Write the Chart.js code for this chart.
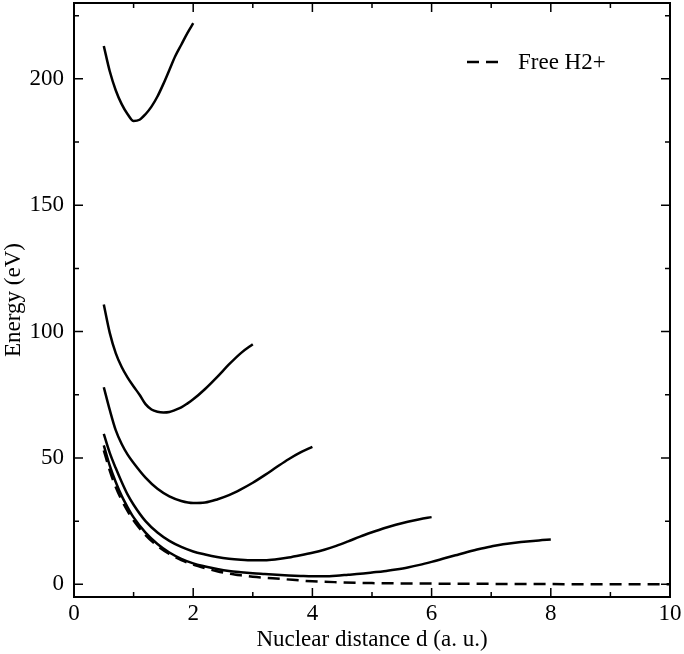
<!DOCTYPE html>
<html>
<head>
<meta charset="utf-8">
<script src="https://cdn.jsdelivr.net/npm/chart.js@4/dist/chart.umd.min.js"></script>
<style>
  html, body { margin: 0; padding: 0; background: #fff; }
  #wrap { width: 684px; height: 654px; }
</style>
</head>
<body>
<div id="wrap"><canvas id="chart" width="684" height="654"></canvas></div>
<script>
// curve values (x = nuclear distance, y = energy in eV)
const x1 = [0.5, 0.6, 0.7, 0.8, 0.9, 1.0, 1.1, 1.2, 1.3, 1.4, 1.5, 1.6, 1.7, 1.8, 1.9, 2.0];
const y1 = [213, 203, 195.5, 190, 186, 183.3, 183.8, 186, 189, 193, 198, 203.5, 209, 213.5, 218, 222];

const x2 = [0.5, 0.6, 0.7, 0.8, 0.9, 1.0, 1.1, 1.2, 1.3, 1.4, 1.5, 1.6, 1.7, 1.8, 1.9, 2.0, 2.2, 2.4, 2.6, 2.8, 3.0];
const y2 = [110.7, 99.5, 91.5, 86, 81.8, 78.3, 75, 71.3, 69.2, 68.3, 68, 68.2, 69, 70, 71.5, 73.2, 77.3, 82, 87, 91.5, 95];

const x3 = [0.5, 0.6, 0.7, 0.8, 0.9, 1.0, 1.2, 1.4, 1.6, 1.8, 2.0, 2.2, 2.4, 2.6, 2.8, 3.0, 3.2, 3.4, 3.6, 3.8, 4.0];
const y3 = [78, 69, 61, 55.5, 51.3, 48, 42.2, 37.8, 34.8, 33, 32.2, 32.4, 33.6, 35.3, 37.6, 40.2, 43.2, 46.4, 49.5, 52.2, 54.4];

const x4 = [0.5, 0.6, 0.7, 0.8, 0.9, 1.0, 1.2, 1.4, 1.6, 1.8, 2.0, 2.2, 2.4, 2.6, 2.8, 3.0, 3.2, 3.4, 3.6, 3.8, 4.0,
            4.2, 4.4, 4.6, 4.8, 5.0, 5.2, 5.4, 5.6, 5.8, 6.0];
const y4 = [59.5, 52, 46, 40.5, 35.5, 31.5, 25, 20.5, 17.2, 14.8, 13, 11.8, 10.8, 10.1, 9.7, 9.5, 9.5, 9.9, 10.6, 11.5, 12.5,
            13.7, 15.2, 17, 18.9, 20.6, 22.2, 23.6, 24.8, 25.8, 26.6];

const x5 = [0.5, 0.6, 0.7, 0.8, 0.9, 1.0, 1.2, 1.4, 1.6, 1.8, 2.0, 2.2, 2.4, 2.6, 2.8, 3.0, 3.2, 3.4, 3.6, 3.8, 4.0,
            4.2, 4.4, 4.6, 4.8, 5.0, 5.2, 5.4, 5.6, 5.8, 6.0, 6.2, 6.4, 6.6, 6.8, 7.0, 7.2, 7.4, 7.6, 7.8, 8.0];
const y5 = [55, 47, 40.5, 35, 30.5, 26.5, 20.5, 16, 12.6, 10.1, 8.3, 7.1, 6.1, 5.3, 4.8, 4.4, 4.1, 3.8, 3.55, 3.35, 3.2,
            3.2, 3.4, 3.8, 4.2, 4.7, 5.2, 5.9, 6.7, 7.7, 8.9, 10.2, 11.5, 12.8, 14, 15, 15.9, 16.5, 17, 17.4, 17.7];

const xFree = [0.5, 0.6, 0.7, 0.8, 0.9, 1.0, 1.2, 1.4, 1.6, 1.8, 2.0, 2.2, 2.4, 2.6, 2.8, 3.0, 3.5, 4.0, 4.5, 5.0, 6.0, 7.0, 8.0, 9.0, 10.0];
const yFree = [53, 45, 38.5, 33.3, 29, 25.3, 19.5, 15.2, 12, 9.6, 7.8, 6.4, 5.2, 4.3, 3.6, 3.0, 2.1, 1.2, 0.8, 0.5, 0.3, 0.2, 0.1, 0.05, 0];

const xTicks = [0, 2, 4, 6, 8, 10];
const xMinor = [1, 3, 5, 7, 9];
const yTicks = [0, 50, 100, 150, 200];
const yMinor = [25, 75, 125, 175, 225];

const FONT = '"Liberation Serif", "DejaVu Serif", serif';

function pts(xs, ys) {
  return xs.map((x, i) => ({ x: x, y: ys[i] }));
}

function solid(label, xs, ys) {
  return {
    label: label,
    data: pts(xs, ys),
    borderColor: '#000',
    borderWidth: 2.5,
    pointRadius: 0,
    cubicInterpolationMode: 'monotone',
    fill: false
  };
}

const datasets = [
  solid('state 1', x1, y1),
  solid('state 2', x2, y2),
  solid('state 3', x3, y3),
  solid('state 4', x4, y4),
  solid('state 5', x5, y5),
  {
    label: 'Free H2+',
    data: pts(xFree, yFree),
    borderColor: '#000',
    borderWidth: 2.5,
    borderDash: [12, 7],
    pointRadius: 0,
    cubicInterpolationMode: 'monotone',
    fill: false,
    inLegend: true
  }
];

// inward ticks on all four sides, like the original plot
const innerTicks = {
  id: 'innerTicks',
  afterDraw(chart) {
    const ctx = chart.ctx;
    const a = chart.chartArea;
    const xs = chart.scales.x, ys = chart.scales.y;
    ctx.save();
    ctx.strokeStyle = '#000';
    ctx.lineWidth = 1.5;
    ctx.beginPath();
    const tick = (vals, len) => {
      vals.forEach(v => {
        const px = xs.getPixelForValue(v);
        ctx.moveTo(px, a.bottom); ctx.lineTo(px, a.bottom - len);
        ctx.moveTo(px, a.top); ctx.lineTo(px, a.top + len);
      });
    };
    const tickY = (vals, len) => {
      vals.forEach(v => {
        const py = ys.getPixelForValue(v);
        ctx.moveTo(a.left, py); ctx.lineTo(a.left + len, py);
        ctx.moveTo(a.right, py); ctx.lineTo(a.right - len, py);
      });
    };
    tick(xTicks, 9); tick(xMinor, 5);
    tickY(yTicks, 9); tickY(yMinor, 5);
    ctx.stroke();
    ctx.lineWidth = 2;
    ctx.strokeRect(a.left, a.top, a.right - a.left, a.bottom - a.top);
    ctx.restore();
  }
};

// legend inside the plot, top right, only for the dashed curve
const innerLegend = {
  id: 'innerLegend',
  afterDraw(chart) {
    const ctx = chart.ctx;
    const a = chart.chartArea;
    chart.data.datasets.forEach(ds => {
      if (!ds.inLegend) return;
      const lx = a.right - 203, ly = a.top + 59;
      ctx.save();
      ctx.strokeStyle = ds.borderColor;
      ctx.lineWidth = ds.borderWidth;
      ctx.setLineDash(ds.borderDash);
      ctx.beginPath();
      ctx.moveTo(lx, ly);
      ctx.lineTo(lx + 33, ly);
      ctx.stroke();
      ctx.setLineDash([]);
      ctx.fillStyle = '#000';
      ctx.font = '23px ' + FONT;
      ctx.textBaseline = 'middle';
      ctx.fillText(ds.label, lx + 51, ly + 1);
      ctx.restore();
    });
  }
};

new Chart(document.getElementById('chart'), {
  type: 'line',
  data: { datasets: datasets },
  options: {
    responsive: false,
    animation: false,
    layout: { padding: { top: 3, right: 14, left: 0, bottom: 0 } },
    plugins: {
      legend: { display: false },
      tooltip: { enabled: false }
    },
    scales: {
      x: {
        type: 'linear',
        min: 0,
        max: 10,
        afterBuildTicks: s => { s.ticks = xTicks.map(v => ({ value: v })); },
        afterFit: s => { s.height = 57; s.paddingLeft = 0; s.paddingRight = 0; },
        grid: { display: false, drawTicks: false },
        border: { display: false },
        ticks: { color: '#000', font: { family: FONT, size: 23 }, padding: 3, maxRotation: 0 },
        title: {
          display: true,
          text: 'Nuclear distance d (a. u.)',
          color: '#000',
          font: { family: FONT, size: 23 },
          padding: { top: 0, bottom: 0 }
        }
      },
      y: {
        type: 'linear',
        min: -5,
        max: 230,
        afterBuildTicks: s => { s.ticks = yTicks.map(v => ({ value: v })); },
        afterFit: s => { s.width = 74; s.paddingTop = 0; s.paddingBottom = 0; },
        grid: { display: false, drawTicks: false },
        border: { display: false },
        ticks: { color: '#000', font: { family: FONT, size: 23 }, padding: 10 },
        title: {
          display: true,
          text: 'Energy (eV)',
          color: '#000',
          font: { family: FONT, size: 23 },
          padding: { top: 0, bottom: 0 }
        }
      }
    }
  },
  plugins: [innerTicks, innerLegend]
});
</script>
</body>
</html>
